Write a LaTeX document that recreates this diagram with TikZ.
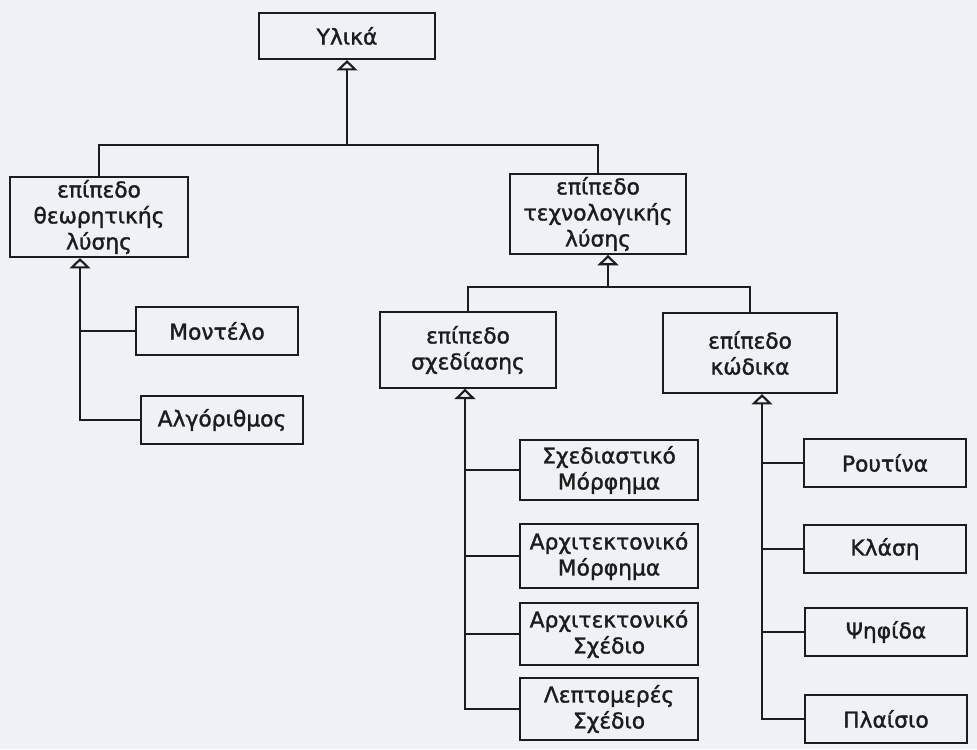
\documentclass[tikz,border=0pt]{standalone}
\usepackage{fontspec}
\setmainfont[FakeBold=1.5]{DejaVu Sans}
\usetikzlibrary{arrows.meta}
\definecolor{paper}{HTML}{EEF1F5}
\definecolor{ink}{HTML}{1C1C1C}
\begin{document}
\begin{tikzpicture}[
  x=0.025cm, y=-0.025cm,
  box/.style={rectangle, draw=ink, line width=1.5pt, minimum width=4.4cm, minimum height=1.2cm, align=center, inner sep=2pt,
    font=\fontsize{15.5}{18.5}\selectfont, text=ink},
  leaf/.style={box, minimum width=4.03cm},
  gen/.style={-{Triangle[open, width=0.52cm, length=0.26cm]}, draw=ink, line width=1.5pt},
  line/.style={draw=ink, line width=1.5pt}
]
\fill[paper] (0,0) rectangle (977,749);
\useasboundingbox (0,0) rectangle (977,749);
% top levels
\node[box, minimum height=1.15cm] (ylika) at (347,36) {Υλικά};
\node[box, minimum width=4.45cm, minimum height=2cm] (theo) at (99,217) {επίπεδο\\θεωρητικής\\λύσης};
\node[box, minimum height=1.9cm] (tech) at (598,214) {επίπεδο\\τεχνολογικής\\λύσης};
\node[box, minimum height=1.88cm] (design) at (468,350) {επίπεδο\\σχεδίασης};
\node[box, minimum width=4.35cm, minimum height=2cm] (code) at (750,353) {επίπεδο\\κώδικα};
% theoretical level
\node[leaf] (model) at (217,331) {Μοντέλο};
\node[leaf] (algo) at (222,420) {Αλγόριθμος};
% design level
\node[box, minimum width=4.43cm, minimum height=1.5cm] (sxmorf) at (609,470) {Σχεδιαστικό\\Μόρφημα};
\node[box, minimum width=4.43cm, minimum height=1.58cm] (arxmorf) at (609,556) {Αρχιτεκτονικό\\Μόρφημα};
\node[box, minimum width=4.43cm, minimum height=1.55cm] (arxsx) at (609,634) {Αρχιτεκτονικό\\Σχέδιο};
\node[box, minimum width=4.43cm, minimum height=1.55cm] (lept) at (609,709) {Λεπτομερές\\Σχέδιο};
% code level
\node[leaf] (rout) at (885,463) {Ρουτίνα};
\node[leaf] (klasi) at (885,549) {Κλάση};
\node[leaf] (psif) at (886,632) {Ψηφίδα};
\node[leaf] (plaisio) at (886,719) {Πλαίσιο};
% junctions
\coordinate (j1) at (347,145);
\coordinate (j2) at (608,287);
\coordinate (tleg) at (80,0);
\coordinate (dleg) at (465,0);
\coordinate (cleg) at (762,0);
\draw[line] (theo.north) |- (j1) -| (tech.north);
\draw[gen] (j1) -- (ylika.south);
\draw[line] (design.north) |- (j2) -| (code.north);
\draw[gen] (j2) -- (tech.south -| j2);
\draw[line] (model.west) -- (model.west -| tleg);
\draw[gen] (algo.west) -| (theo.south -| tleg);
\foreach \n in {sxmorf, arxmorf, arxsx}
  \draw[line] (\n.west) -- (\n.west -| dleg);
\draw[gen] (lept.west) -| (design.south -| dleg);
\foreach \n in {rout, klasi, psif}
  \draw[line] (\n.west) -- (\n.west -| cleg);
\draw[gen] (plaisio.west) -| (code.south -| cleg);
\end{tikzpicture}
\end{document}
